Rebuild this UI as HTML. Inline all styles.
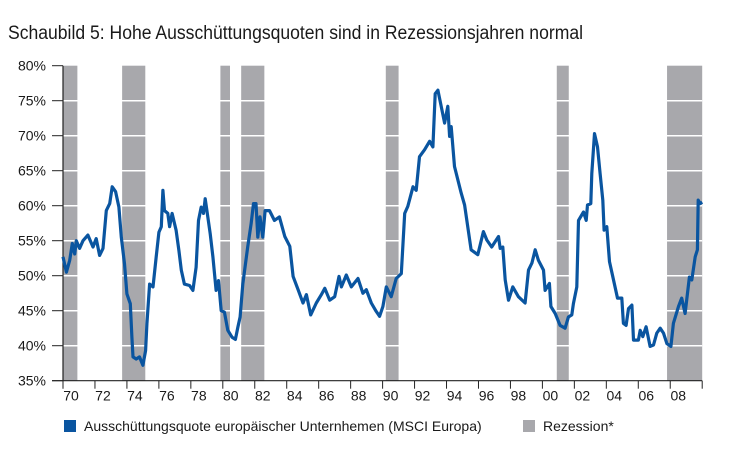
<!DOCTYPE html>
<html><head><meta charset="utf-8"><style>
body{margin:0;background:#fff;width:740px;height:444px;overflow:hidden;font-family:"Liberation Sans",sans-serif}
</style></head><body>
<svg width="740" height="444" viewBox="0 0 740 444">
<text x="8" y="39" font-size="19" fill="#1a1a1a" textLength="575" lengthAdjust="spacingAndGlyphs">Schaubild 5: Hohe Ausschüttungsquoten sind in Rezessionsjahren normal</text>
<g id="rec"></g><g id="grid"></g><g id="axes"></g>
<path id="line" fill="none" stroke="#0a55a0" stroke-width="3.2" stroke-linejoin="round"/>
<rect x="64" y="420" width="12" height="12" fill="#0a55a0"/>
<text x="84" y="431" font-size="14" fill="#1a1a1a">Ausschüttungsquote europäischer Unternhemen (MSCI Europa)</text>
<rect x="523" y="420" width="12" height="12" fill="#a8a8ac"/>
<text x="543" y="431" font-size="14" fill="#1a1a1a">Rezession*</text>
</svg>
<script>
const recStart=[1970.0,1973.7,1979.85,1981.15,1990.2,2000.9,2007.8];
const recEnd=[1970.9,1975.15,1980.45,1982.6,1991.0,2001.65,2010.0];
const yTicks=[35,40,45,50,55,60,65,70,75,80];
const xTickLabels=["70","72","74","76","78","80","82","84","86","88","90","92","94","96","98","00","02","04","06","08"];
const years=[1970,1970.21,1970.42,1970.58,1970.73,1970.83,1971.04,1971.25,1971.56,1971.88,1972.08,1972.29,1972.5,1972.71,1972.92,1973.08,1973.29,1973.5,1973.65,1973.85,1974.0,1974.21,1974.31,1974.38,1974.58,1974.79,1975.0,1975.17,1975.25,1975.42,1975.63,1975.83,1976.0,1976.15,1976.25,1976.35,1976.56,1976.67,1976.83,1977.08,1977.25,1977.4,1977.6,1977.92,1978.13,1978.33,1978.48,1978.65,1978.79,1978.9,1979.06,1979.21,1979.38,1979.58,1979.73,1979.9,1980.1,1980.31,1980.58,1980.79,1980.94,1981.08,1981.25,1981.56,1981.77,1981.92,1982.08,1982.19,1982.33,1982.5,1982.65,1982.92,1983.23,1983.54,
1983.88,1984.19,1984.4,1984.71,1985.02,1985.23,1985.5,1985.85,1986.17,1986.38,1986.69,1987.0,1987.27,1987.42,1987.73,1988.04,1988.46,1988.77,1988.98,1989.29,1989.6,1989.81,1990.02,1990.23,1990.54,1990.85,1991.17,1991.38,1991.58,1991.9,1992.1,1992.31,1992.63,1992.94,1993.15,1993.29,1993.46,1993.67,1993.88,1994.08,1994.19,1994.29,1994.5,1994.92,1995.13,1995.54,1995.96,
1996.31,1996.52,1996.83,1997.25,1997.36,1997.52,1997.67,1997.88,1998.15,1998.5,1998.92,1999.13,1999.34,1999.55,1999.75,2000.07,2000.17,2000.44,2000.53,2000.8,2001.11,2001.42,2001.63,2001.84,2001.94,2002.15,2002.26,2002.57,2002.74,2002.82,2003.03,2003.09,2003.26,2003.45,2003.61,2003.78,2003.86,2004.03,2004.2,2004.45,2004.7,2004.97,2005.07,2005.24,2005.39,2005.6,2005.7,2006.01,2006.12,2006.28,2006.49,2006.74,2006.95,2007.16,2007.37,2007.58,2007.79,2008.04,2008.2,2008.52,2008.72,2008.93,2009.2,2009.35,2009.56,2009.7,2009.75,2009.87,2010.0];
const values=[52.7,50.5,52.2,54.6,53.1,55,53.9,55,55.8,54.1,55.3,52.9,53.9,59.3,60.3,62.7,62,59.8,55.5,51.7,47.4,46,41.2,38.4,38.1,38.4,37.2,39.3,43.1,48.8,48.4,52.7,56.2,57,62.2,59.3,58.9,57,58.9,56.5,53.6,50.8,48.8,48.6,47.9,51.2,57.9,59.8,58.9,61,58.4,56,52.7,47.9,49.3,45,44.8,42.2,41.2,40.9,42.6,44.1,48.8,54.1,57.4,60.3,60.3,55.5,58.4,55.5,59.3,59.3,57.9,58.4,
55.6,54.2,49.9,48,46.1,47.3,44.4,46.1,47.3,48.2,46.5,47,49.9,48.4,50.1,48.4,49.6,47.5,48,46.1,44.9,44.2,45.6,48.4,47,49.6,50.3,58.9,59.9,62.7,62.2,67,68,69.2,68.4,76,76.5,74.2,71.8,74.2,69.9,71.3,65.6,61.8,60.1,53.7,53,
56.3,55.1,54.1,55.6,53.9,54.1,49.4,46.5,48.4,47,46.1,50.8,51.8,53.7,52.2,50.8,47.9,48.9,45.6,44.6,42.9,42.5,44.1,44.4,46,48.4,57.9,59.1,57.9,60.1,60.3,64.6,70.3,68.4,64.6,60.8,56.5,57,52,49.4,46.8,46.8,43.2,42.9,45.3,45.8,40.8,40.8,42.2,41.3,42.7,39.9,40.1,41.8,42.5,41.8,40.3,39.9,43.2,45.6,46.8,44.6,49.8,49.4,52.7,53.7,60.8,60.3,60.5];
const X=y=>63+(y-1970)*15.98;
const Y=v=>65.7+(80-v)*7;
const NS="http://www.w3.org/2000/svg";
function mk(tag,attrs,parent){const e=document.createElementNS(NS,tag);for(const k in attrs)e.setAttribute(k,attrs[k]);document.getElementById(parent).appendChild(e);return e;}
recStart.forEach((s,i)=>{
 const r=mk('rect',{x:X(s),y:Y(80),width:X(recEnd[i])-X(s),height:Y(35)-Y(80),fill:'#a8a8ac'},'rec');
 
 
});
yTicks.forEach(t=>{
 if(t>35&&t<80){const g=mk('line',{x1:X(1970),x2:X(2010),y1:Y(t),y2:Y(t),stroke:'#fff','stroke-width':1.5},'grid');
 
 }
 const tk=mk('line',{x1:52,x2:63,y1:Y(t),y2:Y(t),stroke:'#222','stroke-width':1},'axes');
 
 
 const tx=mk('text',{x:46,y:Y(t)+5,'font-size':14,'text-anchor':'end',fill:'#1a1a1a'},'axes');
 tx.textContent=t+'%';
 
 
});
for(let yr=1970;yr<=2010;yr+=2){
 const tk=mk('line',{x1:X(yr),x2:X(yr),y1:Y(35),y2:Y(35)+8,stroke:'#222','stroke-width':1},'axes');
 
 
}
xTickLabels.forEach((l,i)=>{
 const tx=mk('text',{x:X(1970+2*i)+8,y:Y(35)+20,'font-size':14,'text-anchor':'middle',fill:'#1a1a1a'},'axes');
 tx.textContent=l;
 
 
});
const ya=mk('line',{x1:63,x2:63,y1:Y(80),y2:Y(35),stroke:'#222','stroke-width':1.2},'axes');


const xa=mk('line',{x1:52,x2:X(2010),y1:Y(35),y2:Y(35),stroke:'#222','stroke-width':1.2},'axes');


document.getElementById('line').setAttribute('d',years.map((y,i)=>(i?'L':'M')+X(y).toFixed(1)+' '+Y(values[i]).toFixed(1)).join(' '));
</script>
</body></html>
